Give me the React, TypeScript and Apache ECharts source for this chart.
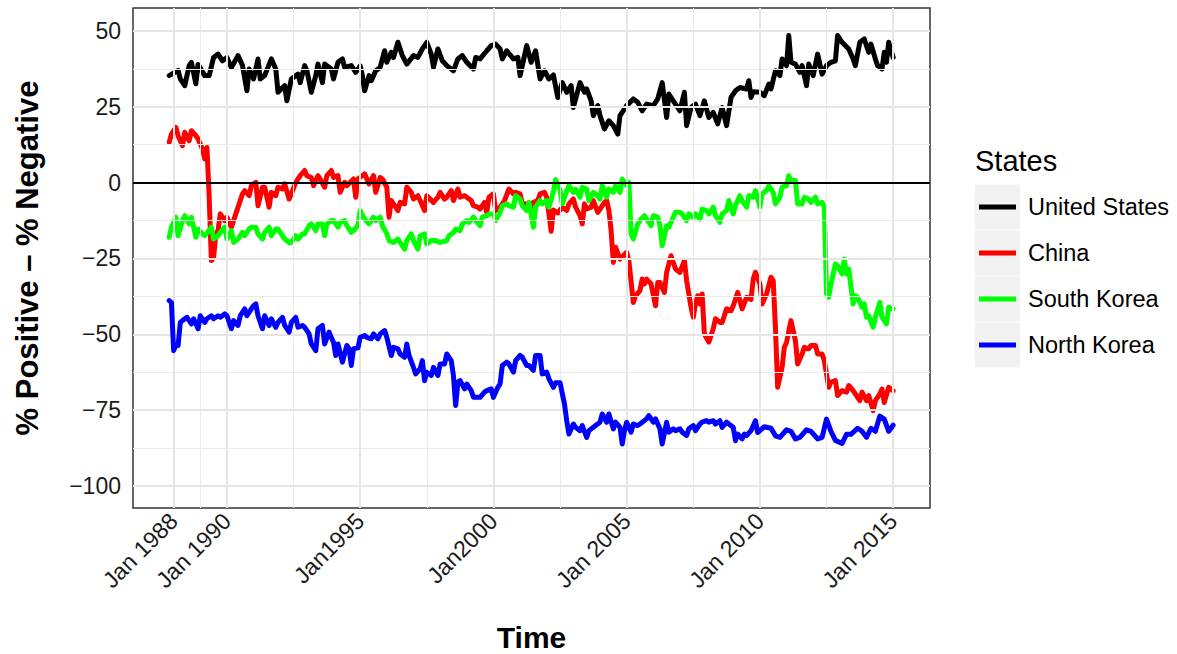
import React, { useEffect, useRef } from "react";
import * as echarts from "echarts";

// x values are months since Jan 1988
const seriesNames = ["United States", "China", "South Korea", "North Korea"];
const seriesColors = ["#000000", "#FF0000", "#00FF00", "#0000FF"];
const xTickMonths = [0, 24, 84, 144, 204, 264, 324];
const xTickLabels = ["Jan 1988", "Jan 1990", "Jan1995", "Jan2000", "Jan 2005", "Jan 2010", "Jan 2015"];
const xMinorMonths = [12, 54, 114, 174, 234, 294];
const yTicks = [-100, -75, -50, -25, 0, 25, 50];
const yMinor = [-87.5, -62.5, -37.5, -12.5, 12.5, 37.5];

const usData: [number, number][] = [
  [-2, 35.3], [2, 37], [3, 34.2], [5, 32], [7, 38.6], [8, 39.7], [10, 32.6], [11, 39], [14, 35.3], [16, 35.3],
  [18, 41.3], [20, 42.4], [22, 40.2], [24, 41.3], [26, 38], [29, 41.9], [31, 38.6], [33, 30.3], [34, 37.5], [36, 34.2],
  [38, 40.8], [39, 34.2], [41, 35.3], [44, 40.8], [46, 37.5], [47, 29.8], [50, 32], [51, 27], [53, 34.2], [56, 35.8],
  [57, 33], [59, 38.6], [60, 37], [62, 29.8], [64, 35.3], [65, 39.1], [67, 33], [68, 39.1], [71, 37.5], [72, 34.2],
  [74, 39.7], [76, 40.8], [77, 38], [80, 38.6], [82, 36.4], [84, 38.5], [85, 35.3], [86, 30.3], [88, 35.3], [89, 33.6],
  [91, 36.9], [93, 38], [95, 43.5], [96, 39.7], [98, 43], [99, 41.3], [101, 46.3], [103, 41.9], [105, 39.1], [108, 41.9],
  [110, 41.3], [112, 44.1], [114, 46.3], [116, 42.4], [117, 38], [119, 44.1], [121, 40.2], [123, 38.6], [126, 36.9], [128, 40.8],
  [130, 41.9], [132, 39.7], [135, 37.5], [136, 41.3], [138, 40.8], [141, 43.5], [143, 45.2], [145, 45.7], [147, 44.1], [148, 40.8],
  [150, 43.5], [153, 40.8], [155, 41.3], [156, 35.3], [159, 45.2], [161, 39.7], [163, 43.5], [165, 34.2], [167, 36.9], [169, 34.2],
  [171, 35.5], [173, 28.1], [175, 33], [177, 29.8], [179, 32], [180, 24.8], [183, 33], [185, 29.8], [186, 30.9], [188, 27],
  [189, 22.1], [191, 25.4], [192, 22.1], [194, 17.7], [196, 20.4], [198, 18.8], [200, 16], [201, 22.1], [204, 25.4], [207, 27.6],
  [209, 26.5], [211, 23.7], [213, 25.9], [216, 25.4], [218, 27.6], [220, 33], [222, 21.5], [223, 29.2], [225, 27], [228, 23.7],
  [230, 29.8], [231, 18.8], [233, 24.8], [235, 25.9], [237, 22.1], [239, 27], [241, 21.5], [243, 23.2], [245, 19.4], [247, 24.8],
  [249, 18.8], [251, 28.1], [253, 30.3], [255, 31.4], [258, 30.9], [259, 33.6], [260, 28.1], [261, 30], [264, 29.8], [266, 28.7],
  [268, 32.5], [269, 30.9], [271, 36.9], [273, 35.3], [274, 40.8], [276, 38.6], [277, 48.5], [278, 39.7], [280, 39.1], [282, 36.4],
  [283, 38.6], [285, 32], [286, 39.1], [288, 35.3], [290, 42.4], [292, 35.8], [294, 38.6], [296, 39.7], [298, 40.2], [299, 48.5],
  [301, 46.3], [304, 44.1], [306, 40.8], [307, 38.6], [309, 46.3], [311, 47.4], [313, 43], [314, 45.7], [316, 40.8], [317, 38.6],
  [319, 37.5], [320, 43], [321, 39.7], [322, 46.3], [324, 41.3]
];

const chinaData: [number, number][] = [
  [-2, 13.3], [-1, 16], [1, 18.2], [2, 15.5], [4, 12.2], [5, 16.6], [7, 13.8], [8, 17.1], [10, 15.5], [11, 14.4],
  [13, 11.1], [14, 7.8], [15, 11.6], [16, -4.8], [17, -25.7], [18, -24.6], [19, -16.9], [20, -15.8], [21, -10.3], [23, -12.5],
  [24, -11.4], [26, -14.7], [28, -10.3], [29, -8.1], [31, -3.7], [32, -2.6], [34, -4.3], [35, -1], [37, 0.1], [38, -7.6],
  [40, -1.5], [41, -1.5], [43, -8.1], [44, -3.2], [46, -4.3], [47, -1.5], [49, -2.1], [50, -0.4], [52, -5.4], [53, -3.7],
  [55, 0.1], [57, 2.3], [59, 4], [60, 2.3], [62, 1.7], [63, -1], [65, 2.3], [66, 1.2], [68, -1.5], [69, 2.3],
  [71, 4], [72, 1.7], [74, 2.3], [75, -3.2], [77, 0.1], [78, -1], [81, 1.2], [82, -4.8], [83, 1.2], [86, 2.9],
  [88, -0.4], [90, 2.3], [91, -3.2], [93, 1.7], [94, 1.2], [96, -1.5], [97, -11.4], [98, -5.9], [99, -7], [101, -9.2],
  [102, -6.5], [104, -7], [105, -1.5], [107, -3.2], [108, -5.4], [110, -4.3], [111, -5.9], [113, -9.2], [114, -4.3], [117, -6.5],
  [119, -4.8], [120, -3.2], [122, -5.4], [123, -4.8], [125, -2.6], [126, -5.9], [128, -2.1], [129, -4.8], [131, -4.3], [132, -4.8],
  [134, -5.9], [135, -7.6], [137, -8.1], [138, -8.7], [140, -6.5], [141, -9.8], [142, -4.8], [144, -3.7], [145, -9.2], [147, -8.1],
  [149, -5.9], [151, -2.1], [153, -3.7], [154, -3.2], [156, -3.7], [157, -7], [159, -7], [161, -8.1], [162, -6.5], [164, -5.9],
  [165, -3.7], [167, -3.2], [168, -4.8], [170, -16], [171, -9], [173, -10], [175, -8.1], [177, -9.2], [178, -7], [180, -5.4],
  [181, -8.1], [183, -10.9], [184, -13.6], [185, -7], [186, -8.7], [188, -8.1], [189, -5.9], [191, -9.8], [192, -8.7], [194, -6.5],
  [195, -5.9], [196, -9.2], [197, -15.8], [198, -26.3], [199, -21.3], [201, -25.2], [204, -23], [205, -25.7], [207, -39.5], [208, -37.3],
  [210, -35.6], [211, -31.8], [212, -33.4], [213, -31.8], [215, -33.4], [217, -40.6], [218, -32.9], [219, -32.9], [221, -36.2], [222, -29.6],
  [224, -24.1], [226, -28.5], [228, -29.6], [230, -25.7], [231, -32.3], [233, -41.1], [234, -44.4], [235, -40], [236, -37.3], [237, -40],
  [238, -36.7], [239, -49.9], [241, -52.6], [243, -48.2], [244, -44.9], [246, -46.1], [247, -46.1], [249, -41.6], [251, -42.2], [252, -40.6],
  [254, -36.2], [256, -41.6], [258, -37.8], [260, -38.5], [261, -31.8], [262, -29.6], [264, -33.4], [265, -40], [267, -36.7], [269, -31.2],
  [270, -32.3], [271, -47.7], [272, -67.5], [274, -60.9], [275, -54.3], [276, -52.7], [278, -45.5], [280, -52.1], [281, -59.8], [283, -56.5],
  [284, -54.3], [286, -54.8], [287, -53.7], [289, -53.7], [290, -56.5], [292, -56.5], [293, -58.7], [295, -67.5], [296, -65.8], [298, -65.3],
  [299, -70.2], [301, -68.6], [303, -69.1], [304, -66.9], [306, -68.6], [307, -69.7], [309, -71.9], [310, -69.1], [312, -71.9], [313, -70.2],
  [315, -75.2], [316, -71.9], [318, -69.7], [319, -68.1], [320, -72.5], [322, -67.5], [324, -68.6]
];

const southKoreaData: [number, number][] = [
  [-2, -18], [-1, -14.7], [1, -11.4], [2, -17.5], [4, -12.5], [5, -10.9], [7, -13.6], [8, -11.4], [10, -18], [11, -15.3],
  [13, -16.9], [14, -17.5], [17, -14.7], [18, -18.6], [20, -17.5], [21, -16.4], [23, -14.7], [24, -18.6], [26, -15.8], [27, -19.7],
  [29, -18.6], [31, -16.4], [32, -17.5], [34, -15.3], [35, -14.7], [37, -14.7], [38, -16.9], [40, -18.6], [41, -16.4], [43, -14.7],
  [44, -17.5], [46, -15.3], [47, -15.3], [49, -17.5], [50, -18.6], [52, -19.7], [53, -19.7], [55, -17.5], [56, -18.6], [58, -16.9],
  [59, -16.9], [61, -14.2], [62, -13.6], [64, -15.8], [65, -13.6], [67, -13.6], [68, -17.5], [69, -13.6], [71, -12.5], [72, -12.5],
  [74, -14.7], [75, -13.1], [77, -12.5], [78, -14.2], [80, -16.4], [81, -15.8], [83, -14], [84, -9.2], [86, -12], [88, -13.6],
  [90, -11.4], [91, -12.5], [93, -11.4], [94, -14.2], [96, -16.9], [97, -19.1], [99, -19.7], [101, -18.6], [102, -19.7], [104, -21.9],
  [105, -19.1], [107, -16.9], [108, -19.1], [110, -21.9], [111, -17.5], [113, -16.9], [114, -20.2], [116, -19.1], [118, -19.1], [120, -19.7],
  [123, -19.1], [124, -17.5], [126, -16.4], [127, -15.3], [129, -15.8], [130, -13.6], [132, -12.5], [133, -13.1], [135, -11.4], [136, -12.5],
  [138, -14.2], [139, -11.4], [141, -10.9], [142, -10.3], [144, -10.3], [145, -12.5], [147, -9.8], [148, -7.6], [150, -7], [151, -7.6],
  [153, -8.1], [154, -4.3], [156, -5.4], [157, -7.6], [159, -9.2], [160, -6.5], [162, -14.7], [163, -8.1], [165, -5.9], [166, -7],
  [168, -5.9], [169, -8.1], [171, -3], [172, 1], [174, -2.5], [175, -7], [177, -2.6], [178, -1], [180, -3.2], [181, -2.1],
  [183, -4.8], [184, -1.5], [186, -2.1], [187, -5.9], [189, -3.2], [190, -3.7], [192, -5.4], [193, -1], [195, -4.8], [196, -2.1],
  [198, -3.2], [199, -1], [201, -3.2], [202, 1.2], [204, -1], [205, 0.1], [206, -16.9], [207, -18.6], [209, -13.6], [210, -12.5],
  [212, -10.9], [213, -12], [215, -14.2], [216, -10.9], [218, -11.4], [219, -14.2], [220, -20.8], [222, -14.2], [223, -14.7], [225, -11.4],
  [226, -9.8], [228, -9.8], [229, -10.3], [231, -12.5], [232, -10.3], [234, -11.4], [235, -10.3], [237, -12], [238, -8.7], [240, -9.2],
  [241, -10.3], [243, -8.1], [244, -10.9], [246, -13.1], [247, -10.3], [249, -9.2], [250, -5.9], [252, -10.3], [253, -7.6], [255, -4.3],
  [256, -5.9], [258, -8.1], [259, -4.3], [261, -4.8], [262, -2.6], [264, -8.1], [265, -3.7], [267, -2.6], [268, -1], [270, -3.2],
  [271, -7], [273, -4.8], [274, -1.5], [276, -1], [277, 2.3], [278, 0.7], [280, 0.7], [281, -7], [283, -7], [284, -4.8],
  [286, -5.4], [287, -6.5], [289, -4.8], [290, -7], [292, -6.5], [293, -8.1], [294, -36.7], [295, -37.8], [296, -33.4], [298, -26.8],
  [299, -27.4], [301, -30.1], [302, -25.2], [303, -30.1], [304, -28.5], [306, -40], [307, -37.3], [308, -37.8], [310, -41.1], [311, -40],
  [312, -44.4], [313, -43.9], [315, -47.7], [316, -44.4], [318, -39.5], [319, -44.4], [321, -46.6], [322, -41.1], [324, -41.6]
];

const northKoreaData: [number, number][] = [
  [-2, -38.9], [-1, -39.5], [0, -55.4], [1, -53.7], [2, -53.7], [3, -46.1], [5, -44.9], [6, -44.4], [8, -46.6], [9, -44.9],
  [11, -48.2], [12, -43.9], [14, -46.1], [15, -44.9], [17, -43.9], [18, -44.9], [20, -43.9], [21, -44.4], [23, -43.3], [24, -43.9],
  [26, -48.2], [27, -45.5], [29, -47.1], [30, -43.9], [32, -41.6], [33, -43.9], [35, -41.6], [36, -40.6], [37, -40], [38, -43.9],
  [40, -48.2], [41, -43.9], [43, -47.1], [44, -44.9], [46, -47.7], [47, -46.1], [49, -44.4], [50, -47.1], [52, -49.3], [53, -46.1],
  [55, -44.4], [56, -47.7], [58, -47.1], [59, -47.7], [61, -49.9], [62, -53.2], [64, -55.4], [65, -48.2], [67, -47.1], [68, -53.2],
  [70, -49.3], [72, -52.7], [73, -57], [74, -53.2], [76, -59.2], [78, -53.7], [79, -54.8], [80, -60.3], [81, -54.8], [83, -54.5],
  [84, -51], [86, -50.4], [87, -51], [89, -51.5], [90, -49.9], [92, -51.5], [93, -49.9], [95, -48.8], [96, -51], [98, -57],
  [99, -54.3], [101, -54.8], [102, -56.5], [104, -57.6], [105, -53.2], [106, -57], [108, -60.9], [109, -63.1], [111, -61.4], [112, -58.7],
  [113, -65.3], [114, -62.5], [116, -63.6], [117, -60.9], [119, -63.6], [120, -59.8], [122, -59.8], [123, -56.5], [125, -58.7], [126, -63.6],
  [127, -73.5], [128, -65.8], [129, -65.3], [131, -68], [132, -66.4], [134, -68.6], [135, -70.8], [137, -70.8], [138, -70.8], [140, -69.1],
  [141, -68.6], [143, -68], [144, -70.8], [146, -67.5], [147, -66.4], [148, -60.3], [150, -59.2], [151, -59.8], [153, -62.5], [154, -58.7],
  [156, -57], [157, -57.6], [159, -60.3], [160, -60.3], [162, -61.9], [163, -57], [165, -57], [166, -63.1], [168, -62.5], [169, -64.7],
  [171, -67.5], [172, -66], [174, -66], [176, -73], [177, -78.5], [178, -82.9], [180, -79.6], [181, -80.7], [183, -81.8], [184, -80.1],
  [186, -84], [187, -81.8], [189, -80.7], [190, -80.1], [192, -79], [193, -76.3], [195, -79], [196, -76.3], [198, -81.2], [199, -79],
  [201, -80.7], [202, -86.2], [203, -81.8], [204, -79], [206, -82.3], [207, -79.6], [209, -80.1], [210, -79.6], [213, -77.9], [214, -76.8],
  [216, -79], [217, -77.9], [219, -81.2], [220, -86.2], [222, -79], [223, -82.3], [225, -81.2], [226, -81.8], [228, -81.2], [229, -82.3],
  [231, -83.4], [232, -81.2], [234, -80.1], [235, -81.8], [237, -79.6], [238, -79], [240, -78.5], [241, -79], [243, -78.5], [244, -79.6],
  [246, -78.5], [247, -80.7], [249, -79], [250, -79.6], [252, -80.7], [253, -85.1], [254, -82.9], [256, -84.5], [257, -82.9], [258, -83.4],
  [260, -81.8], [262, -78.5], [263, -82.4], [266, -80.5], [269, -81], [271, -83.5], [273, -84], [276, -81.5], [278, -82], [280, -84.5],
  [282, -84], [285, -81.5], [287, -82], [290, -84.5], [292, -84], [294, -78], [296, -82], [298, -85], [301, -86], [303, -83],
  [305, -83], [308, -81], [310, -82], [312, -84], [314, -81], [316, -82], [318, -77], [320, -78], [322, -82], [324, -80]
];

const allData = [usData, chinaData, southKoreaData, northKoreaData];

const FONT = "'Liberation Sans', Arial, Helvetica, sans-serif";

export default function App() {
  const ref = useRef<HTMLDivElement>(null);

  useEffect(() => {
    if (!ref.current) return;
    const chart = echarts.init(ref.current, null, { renderer: "svg" });

    const gridLines: any[] = [];
    xMinorMonths.forEach((v) => gridLines.push({ xAxis: v, lineStyle: { color: "#EBEBEB", width: 1, type: "solid" } }));
    yMinor.forEach((v) => gridLines.push({ yAxis: v, lineStyle: { color: "#EBEBEB", width: 1, type: "solid" } }));
    xTickMonths.forEach((v) => gridLines.push({ xAxis: v, lineStyle: { color: "#E5E5E5", width: 2, type: "solid" } }));
    yTicks.forEach((v) => gridLines.push({ yAxis: v, lineStyle: { color: "#E5E5E5", width: 2, type: "solid" } }));
    gridLines.push({ yAxis: 0, lineStyle: { color: "#000000", width: 2, type: "solid" } });

    const legendGraphics: any[] = [
      {
        type: "text",
        x: 975,
        y: 161,
        style: { text: "States", fontFamily: FONT, fontSize: 29, fill: "#000", verticalAlign: "middle" },
      },
    ];
    seriesNames.forEach((name, i) => {
      const cy = 207 + i * 46;
      legendGraphics.push({
        type: "rect",
        shape: { x: 975, y: cy - 22.5, width: 45, height: 45 },
        style: { fill: "#F2F2F2" },
      });
      legendGraphics.push({
        type: "line",
        shape: { x1: 979, y1: cy, x2: 1016, y2: cy },
        style: { stroke: seriesColors[i], lineWidth: 5 },
      });
      legendGraphics.push({
        type: "text",
        x: 1028,
        y: cy,
        style: { text: name, fontFamily: FONT, fontSize: 23.5, fill: "#000", verticalAlign: "middle" },
      });
    });

    const option: any = {
      animation: false,
      backgroundColor: "#FFFFFF",
      grid: {
        left: 133,
        right: 247,
        top: 8,
        bottom: 146,
        show: true,
        borderColor: "#333333",
        borderWidth: 1.5,
        backgroundColor: "#FFFFFF",
        containLabel: false,
        outerBoundsMode: "none",
        z: 0,
      },
      xAxis: {
        type: "value",
        min: -18.3,
        max: 340.6,
        axisLine: { show: false },
        splitLine: { show: false },
        axisTick: { show: true, customValues: xTickMonths, length: 6, lineStyle: { color: "#333333", width: 1 } },
        axisLabel: {
          customValues: xTickMonths,
          rotate: 45,
          margin: 9,
          fontFamily: FONT,
          fontSize: 23,
          color: "#1A1A1A",
          formatter: (v: number) => {
            const i = xTickMonths.indexOf(Math.round(v));
            return i >= 0 ? xTickLabels[i] : "";
          },
        },
        name: "Time",
        nameLocation: "middle",
        nameGap: 114,
        nameTextStyle: { fontFamily: FONT, fontSize: 30, lineHeight: 30, fontWeight: "bold", color: "#000" },
      },
      yAxis: {
        type: "value",
        min: -107.3,
        max: 57.6,
        axisLine: { show: false },
        splitLine: { show: false },
        axisTick: { show: true, customValues: yTicks, length: 6, lineStyle: { color: "#333333", width: 1 } },
        axisLabel: {
          customValues: yTicks,
          margin: 12,
          fontFamily: FONT,
          fontSize: 23,
          color: "#1A1A1A",
          formatter: (v: number) => (v < 0 ? "\u2212" + Math.abs(v) : String(v)),
        },
        name: "% Positive \u2013 % Negative",
        nameLocation: "middle",
        nameRotate: 90,
        nameGap: 90,
        nameTextStyle: { fontFamily: FONT, fontSize: 31, fontWeight: "bold", color: "#000" },
      },
      graphic: legendGraphics,
      series: [
        {
          type: "line",
          name: "grid",
          data: [[-10, 0]],
          showSymbol: false,
          silent: true,
          z: 1,
          lineStyle: { opacity: 0 },
          markLine: {
            silent: true,
            symbol: ["none", "none"],
            label: { show: false },
            animation: false,
            data: gridLines,
          },
        },
        ...seriesNames.map((name, i) => ({
          type: "line",
          name,
          data: allData[i],
          showSymbol: false,
          symbol: "none",
          z: 2 + i,
          lineStyle: { color: seriesColors[i], width: 5, join: "round", cap: "round" },
          itemStyle: { color: seriesColors[i] },
        })),
      ],
    };

    chart.setOption(option);
    return () => chart.dispose();
  }, []);

  return (
    <div
      ref={ref}
      style={{ position: "fixed", left: 0, top: 0, width: 1177, height: 654 }}
    />
  );
}
